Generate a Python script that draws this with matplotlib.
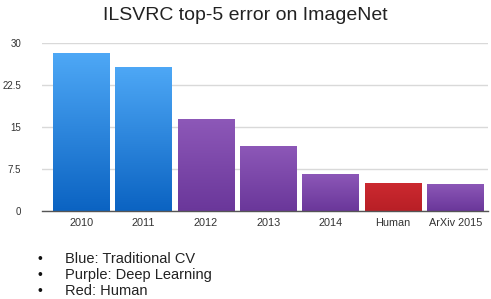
import matplotlib
matplotlib.use("Agg")
import matplotlib.pyplot as plt
import numpy as np
from matplotlib.colors import LinearSegmentedColormap

labels = ["2010", "2011", "2012", "2013", "2014", "Human", "ArXiv 2015"]
errors = [28.2, 25.8, 16.4, 11.7, 6.7, 5.1, 4.9]
groups = ["cv", "cv", "dl", "dl", "dl", "human", "dl"]
yticks = [0, 7.5, 15, 22.5, 30]
yticklabels = ["0", "7.5", "15", "22.5", "30"]
notes = ["Blue: Traditional CV", "Purple: Deep Learning", "Red: Human"]

# top/bottom colours of the gradient fill
gradients = {
    "cv": ("#4ea8f6", "#0b63c2"),
    "dl": ("#8d58b8", "#6a379a"),
    "human": ("#cc2a30", "#b81f26"),
}

plt.rcParams["font.family"] = ["Liberation Sans", "DejaVu Sans"]

fig = plt.figure(figsize=(4.91, 2.99), dpi=100)
ax = fig.add_axes([0.0855, 0.294, 0.908, 0.562])

x = np.arange(len(labels))
bars = ax.bar(x, errors, width=0.91, color="none", edgecolor="none", zorder=3)

grad = np.linspace(0, 1, 256).reshape(-1, 1)
for bar, g in zip(bars, groups):
    cmap = LinearSegmentedColormap.from_list(g, [gradients[g][1], gradients[g][0]])
    x0, y0 = bar.get_x(), bar.get_y()
    im = ax.imshow(grad, cmap=cmap, origin="lower", aspect="auto",
                   extent=[x0, x0 + bar.get_width(), y0, y0 + bar.get_height()],
                   zorder=3)
    im.set_clip_path(bar)

ax.set_xlim(-0.63, 6.52)
ax.set_ylim(0, 30)
ax.set_yticks(yticks)
ax.set_yticklabels(yticklabels)
ax.set_xticks(x)
ax.set_xticklabels(labels)
ax.tick_params(axis="both", length=0, colors="#333333")
ax.tick_params(axis="y", pad=15, labelsize=7)
ax.tick_params(axis="x", pad=5, labelsize=7.8)
ax.grid(axis="y", color="#d9d9d9", linewidth=1, zorder=0)
for s in ["top", "right", "left"]:
    ax.spines[s].set_visible(False)
ax.spines["bottom"].set_color("#555555")
ax.spines["bottom"].set_linewidth(1)
ax.spines["bottom"].set_zorder(4)

fig.text(0.5, 0.948, "ILSVRC top-5 error on ImageNet", ha="center", va="center",
         fontsize=14, color="#222222")

for i, note in enumerate(notes):
    yy = 1 - (259 + i * 16) / 299
    fig.text(38 / 491, yy, "\u2022", ha="left", va="center", fontsize=10, color="#111111")
    fig.text(65 / 491, yy, note, ha="left", va="center", fontsize=10.5, color="#222222")

fig.savefig("out.png", dpi=100)
